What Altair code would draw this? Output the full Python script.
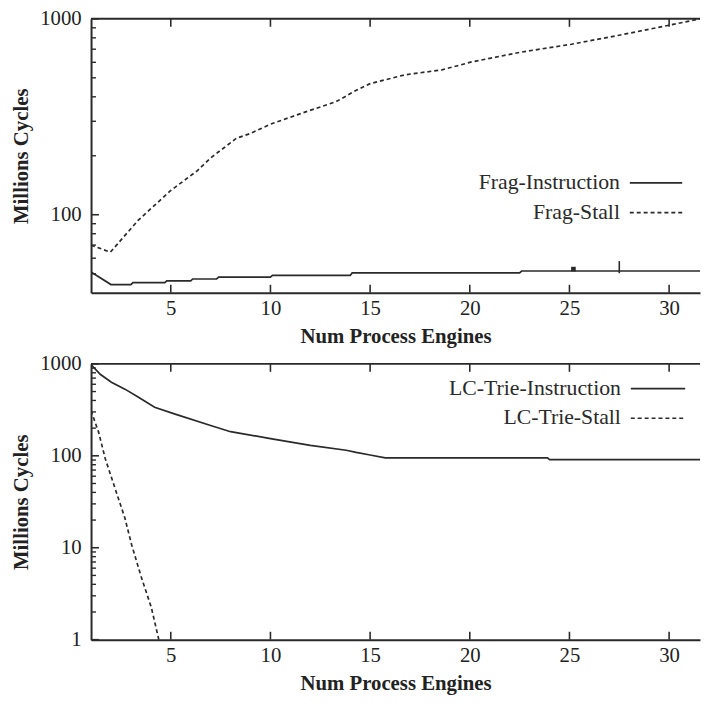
import altair as alt
import pandas as pd

# ---------------- data ----------------
x_tick_values = [5, 10, 15, 20, 25, 30]
x_domain = [1, 31.55]

top_y_domain = [40, 1000]
top_y_major = [100, 1000]
top_y_minor = [50, 60, 70, 80, 90, 200, 300, 400, 500, 600, 700, 800, 900]

bot_y_domain = [1, 1000]
bot_y_major = [1, 10, 100, 1000]
bot_y_minor = [2, 3, 4, 5, 6, 7, 8, 9, 20, 30, 40, 50, 60, 70, 80, 90,
               200, 300, 400, 500, 600, 700, 800, 900]

frag_instr_x = [1, 2, 3, 3.1, 4.7, 4.8, 6, 6.1, 7.3, 7.4, 10, 10.1, 14, 14.1, 22.5, 22.6, 31.55]
frag_instr_y = [51, 44, 44, 45, 45, 46, 46, 47, 47, 48, 48, 49, 49, 50.5, 50.5, 51.6, 51.6]

frag_stall_x = [1, 1.97, 3.36, 5, 6.34, 7, 8.3, 9, 10, 11.8, 13.3, 14.2, 15, 16.75,
                18.6, 20.1, 22.6, 25.1, 27.5, 30, 31.55]
frag_stall_y = [70, 64.4, 93.6, 133, 168, 195, 246, 260, 290, 336, 378, 426, 467, 518,
                549, 603, 677, 742, 825, 928, 1000]

lc_instr_x = [1, 1.46, 2.02, 2.7, 3.36, 4.19, 5.18, 7, 8, 10, 12, 13.8, 14.3, 15.0, 15.76,
              23.9, 24.0, 31.55]
lc_instr_y = [980, 771, 632, 531, 436, 337, 286, 214, 183, 154, 130, 115, 109, 102, 95,
              95, 91, 91]

lc_stall_x = [1, 1.38, 1.71, 2.2, 2.7, 3.03, 3.52, 4.02, 4.4]
lc_stall_y = [310, 181, 93.6, 44.5, 21, 10.9, 4.8, 2.26, 1.0]

# small marks visible on the instruction line of the top panel
frag_mark_x = [25.2]
frag_mark_y = [52.8]
frag_tick_x = [27.5]
frag_tick_y = [50.3]
frag_tick_y2 = [58]

top_labels = ["Frag-Instruction", "Frag-Stall"]
bot_labels = ["LC-Trie-Instruction", "LC-Trie-Stall"]

# ---------------- style ----------------
FONT = "Liberation Serif"
INK = "#2a2a2a"
W = 616
H_TOP = 277
H_BOT = 279
LINE_W = 1.7
DASH = [4, 3]

X_TITLE = "Num Process Engines"
Y_TITLE = "Millions Cycles"


def make_x():
    return alt.X("x:Q", scale=alt.Scale(domain=x_domain, nice=False, zero=False),
                 axis=alt.Axis(values=x_tick_values, format="d", title=X_TITLE,
                               ticks=False, grid=False, labelPadding=5, titlePadding=7))


def make_y(ydom, major):
    return alt.Y("y:Q", scale=alt.Scale(type="log", domain=ydom, nice=False),
                 axis=alt.Axis(values=major, format="d", title=Y_TITLE,
                               ticks=False, grid=False, labelPadding=10, titlePadding=8))


def line_layer(xs, ys, dashed, ydom, major):
    df = pd.DataFrame({"x": xs, "y": ys})
    mk = dict(color=INK, strokeWidth=LINE_W, clip=True)
    if dashed:
        mk["strokeDash"] = DASH
    return alt.Chart(df).mark_line(**mk).encode(x=make_x(), y=make_y(ydom, major))


def frame_layers(ydom, major, minor, height):
    xt = pd.DataFrame({"x": x_tick_values})
    bottom_ticks = alt.Chart(xt).mark_rule(color=INK, strokeWidth=1.6).encode(
        x=make_x(), y=alt.value(height), y2=alt.value(height - 8))
    top_ticks = alt.Chart(xt).mark_rule(color=INK, strokeWidth=1.6).encode(
        x=make_x(), y=alt.value(0), y2=alt.value(8))
    maj = alt.Chart(pd.DataFrame({"y": major})).mark_rule(color=INK, strokeWidth=1.6).encode(
        y=make_y(ydom, major), x=alt.value(0), x2=alt.value(8))
    mnr = alt.Chart(pd.DataFrame({"y": minor})).mark_rule(color=INK, strokeWidth=1.4).encode(
        y=make_y(ydom, major), x=alt.value(0), x2=alt.value(5))
    top_border = alt.Chart(pd.DataFrame({"a": [0]})).mark_rule(color=INK, strokeWidth=2).encode(
        x=alt.value(0), x2=alt.value(W), y=alt.value(0))
    return [bottom_ticks, top_ticks, maj, mnr, top_border]


def legend_layers(labels, text_x, line_x1, line_x2, y1, y2):
    out = []
    for lab, yy, dashed in [(labels[0], y1, False), (labels[1], y2, True)]:
        d = pd.DataFrame({"label": [lab]})
        out.append(alt.Chart(d).mark_text(align="right", baseline="middle", font=FONT,
                                          fontSize=22, color=INK).encode(
            text="label:N", x=alt.value(text_x), y=alt.value(yy)))
        mk = dict(color=INK, strokeWidth=LINE_W)
        if dashed:
            mk["strokeDash"] = DASH
        out.append(alt.Chart(d).mark_rule(**mk).encode(
            x=alt.value(line_x1), x2=alt.value(line_x2), y=alt.value(yy + 1)))
    return out


# ---------------- top panel ----------------
top_instr = line_layer(frag_instr_x, frag_instr_y, False, top_y_domain, top_y_major)
top_stall = line_layer(frag_stall_x, frag_stall_y, True, top_y_domain, top_y_major)
top_square = alt.Chart(pd.DataFrame({"x": frag_mark_x, "y": frag_mark_y})).mark_square(
    color=INK, size=22, opacity=1).encode(x=make_x(), y=make_y(top_y_domain, top_y_major))
top_vtick = alt.Chart(pd.DataFrame({"x": frag_tick_x, "y": frag_tick_y, "y2": frag_tick_y2})).mark_rule(
    color=INK, strokeWidth=1.6).encode(
    x=make_x(), y=make_y(top_y_domain, top_y_major), y2="y2:Q")

top = alt.layer(
    top_instr, top_stall, top_square, top_vtick,
    *frame_layers(top_y_domain, top_y_major, top_y_minor, H_TOP),
    *legend_layers(top_labels, 535, 545, 598, 165, 195),
).properties(width=W, height=H_TOP)

# ---------------- bottom panel ----------------
bot_instr = line_layer(lc_instr_x, lc_instr_y, False, bot_y_domain, bot_y_major)
bot_stall = line_layer(lc_stall_x, lc_stall_y, True, bot_y_domain, bot_y_major)

bot = alt.layer(
    bot_instr, bot_stall,
    *frame_layers(bot_y_domain, bot_y_major, bot_y_minor, H_BOT),
    *legend_layers(bot_labels, 536, 546, 601, 24, 54),
).properties(width=W, height=H_BOT)

chart = alt.vconcat(top, bot, spacing=7).properties(
    padding={"left": 3, "top": -4, "right": 0, "bottom": 0}
).configure(background="white").configure_view(strokeWidth=0).configure_axis(
    labelFont=FONT, labelFontSize=21, labelColor="#222",
    titleFont=FONT, titleFontSize=21, titleFontWeight="bold", titleColor="#222",
    domainColor=INK, domainWidth=2,
)

chart.save("out.html", embed_options={"renderer": "svg", "actions": False})
